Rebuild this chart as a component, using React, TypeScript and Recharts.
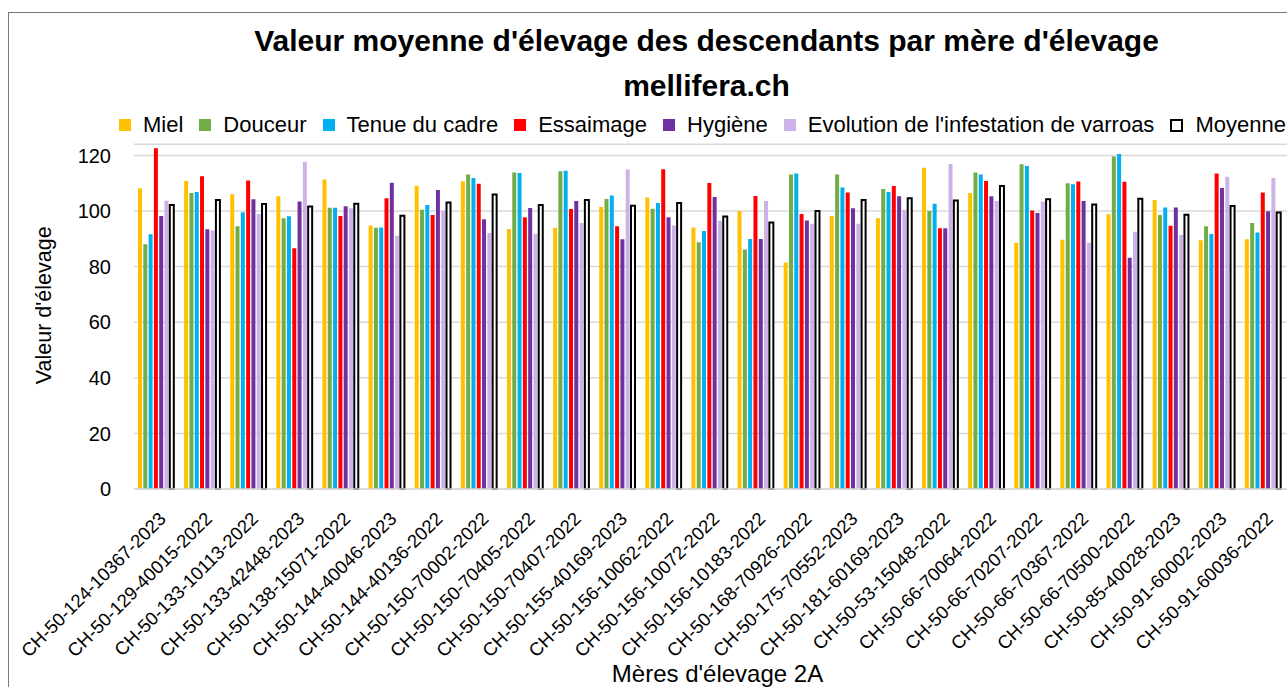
import React from 'react';
import { BarChart, Bar, XAxis, YAxis, CartesianGrid, Legend, Label } from 'recharts';

const categories = [
  'CH-50-124-10367-2023', 'CH-50-129-40015-2022', 'CH-50-133-10113-2022', 'CH-50-133-42448-2023',
  'CH-50-138-15071-2022', 'CH-50-144-40046-2023', 'CH-50-144-40136-2022', 'CH-50-150-70002-2022',
  'CH-50-150-70405-2022', 'CH-50-150-70407-2022', 'CH-50-155-40169-2023', 'CH-50-156-10062-2022',
  'CH-50-156-10072-2022', 'CH-50-156-10183-2022', 'CH-50-168-70926-2022', 'CH-50-175-70552-2023',
  'CH-50-181-60169-2023', 'CH-50-53-15048-2022', 'CH-50-66-70064-2022', 'CH-50-66-70207-2022',
  'CH-50-66-70367-2022', 'CH-50-66-70500-2022', 'CH-50-85-40028-2023', 'CH-50-91-60002-2023',
  'CH-50-91-60036-2022',
];

const miel = [108.2, 110.8, 106, 105.3, 111.3, 94.8, 109.1, 110.7, 93.5, 94, 101.4, 104.9, 94.1, 100, 81.5, 98.2, 97.4, 115.6, 106.5, 88.6, 89.7, 98.8, 104, 89.5, 89.8];
const douceur = [88, 106.5, 94.5, 97.4, 101.2, 94, 100.5, 113.1, 113.9, 114.3, 104.3, 100.8, 88.8, 86.2, 113.1, 113.1, 107.9, 100, 113.9, 116.8, 110, 119.6, 98.6, 94.5, 95.7];
const tenue = [91.6, 106.8, 99.6, 98.1, 101.2, 94.1, 102.2, 111.9, 113.7, 114.5, 105.6, 102.9, 92.8, 89.9, 113.5, 108.5, 106.8, 102.6, 113.1, 116.2, 109.6, 120.5, 101.3, 91.7, 92.3];
const essaimage = [122.6, 112.5, 111, 86.6, 98.2, 104.6, 98.6, 109.8, 97.8, 100.7, 94.5, 115, 110.1, 105.4, 98.9, 106.7, 109, 93.8, 110.8, 100.2, 110.6, 110.5, 94.7, 113.5, 106.7];
const hygiene = [98.2, 93.4, 104.2, 103.4, 101.7, 110.2, 107.6, 97, 101.1, 103.6, 89.8, 97.8, 105, 89.9, 96.6, 101, 105.3, 93.8, 105.3, 99.3, 103.6, 83.2, 101.3, 108.3, 99.9];
const evolution = [103.7, 93, 98.9, 117.7, 101, 91.1, 100, 92.1, 91.8, 95.7, 114.9, 94.8, 96.5, 103.6, 95.4, 95.4, 100.4, 116.9, 103.6, 103.4, 88.6, 92.5, 91.4, 112.3, 111.9];
const moyenne = [102.2, 104, 102.5, 101.6, 102.6, 98.3, 103.1, 105.9, 102.2, 104, 101.9, 102.9, 98, 95.9, 100, 104, 104.6, 103.8, 109, 104.2, 102.3, 104.4, 98.7, 101.8, 99.5];

const seriesKeys = ['miel', 'douceur', 'tenue', 'essaimage', 'hygiene', 'evolution', 'moyenne'];
const seriesNames = ['Miel', 'Douceur', 'Tenue du cadre', 'Essaimage', 'Hygiène', "Evolution de l'infestation de varroas", 'Moyenne'];
const seriesColors = ['#FFC000', '#70AD47', '#00B0F0', '#FF0000', '#7030A0', '#CDB2E8', '#FFFFFF'];
const seriesValues = [miel, douceur, tenue, essaimage, hygiene, evolution, moyenne];
const yTicks = [0, 20, 40, 60, 80, 100, 120];

const titleLine1 = "Valeur moyenne d'élevage des descendants par mère d'élevage";
const titleLine2 = 'mellifera.ch';
const yTitle = "Valeur d'élevage";
const xTitle = "Mères d'élevage 2A";

const data = categories.map((name, i) => {
  const row: Record<string, any> = { name };
  seriesKeys.forEach((k, j) => {
    row[k] = seriesValues[j][i];
  });
  return row;
});

const FONT = "'Liberation Sans', Arial, sans-serif";

const XTick = (props: any) => {
  const { x, y, payload } = props;
  const tx = x + 10;
  const ty = y + 31;
  return (
    <text x={tx} y={ty} transform={`rotate(-45 ${tx} ${ty})`} textAnchor="end" fontSize={18.5} fontFamily={FONT} fill="#000">
      {payload.value}
    </text>
  );
};

const LegendContent = () => (
  <div style={{ display: 'flex', alignItems: 'center', height: 24, fontFamily: FONT, fontSize: 22, lineHeight: '24px', color: '#000', whiteSpace: 'nowrap' }}>
    {seriesNames.map((n, i) => (
      <div key={n} style={{ display: 'flex', alignItems: 'center', marginRight: 16 }}>
        <span
          style={{
            display: 'inline-block',
            width: i === 6 ? 9 : 12,
            height: i === 6 ? 9 : 12,
            background: seriesColors[i],
            border: i === 6 ? '2px solid #000' : 'none',
            marginRight: 12,
            marginTop: 1,
          }}
        />
        <span>{n}</span>
      </div>
    ))}
  </div>
);

export default function App() {
  return (
    <div style={{ position: 'absolute', left: 0, top: 0, width: 1287, height: 687, overflow: 'hidden', background: '#fff' }}>
      <div style={{ position: 'absolute', left: 8, top: 12, width: 1300, height: 700, borderLeft: '1px solid #7a7a7a', borderTop: '1px solid #7a7a7a' }} />
      <div style={{ position: 'absolute', left: 0, top: 0 }}>
        <BarChart
          width={1292}
          height={700}
          data={data}
          margin={{ top: 144.3, right: 5, bottom: 0, left: 0 }}
          barCategoryGap={4}
          barGap={1.3}
        >
          <CartesianGrid vertical={false} stroke="#d9d9d9" strokeWidth={1.5} />
          <XAxis
            dataKey="name"
            interval={0}
            tick={<XTick />}
            tickLine={false}
            tickSize={0}
            tickMargin={0}
            axisLine={{ stroke: '#d9d9d9', strokeWidth: 1.5 }}
            height={211}
          >
            <Label
              content={(p: any) => {
                const vb = p.viewBox || { x: 134, y: 489, width: 1153, height: 211 };
                const cx = vb.x + 583.5;
                const cy = vb.y + 192.5;
                return (
                  <text x={cx} y={cy} textAnchor="middle" fontSize={24} fontFamily={FONT} fill="#000">
                    {xTitle}
                  </text>
                );
              }}
            />
          </XAxis>
          <YAxis
            domain={[0, 124]}
            ticks={yTicks}
            width={134}
            axisLine={false}
            tickLine={false}
            tickSize={0}
            tickMargin={23}
            tick={{ fontSize: 20, fill: '#000', fontFamily: FONT }}
          >
            <Label
              content={(p: any) => {
                const vb = p.viewBox || { x: 0, y: 144.3 };
                const cx = vb.x + 51;
                const cy = vb.y + 161;
                return (
                  <text x={cx} y={cy} transform={`rotate(-90 ${cx} ${cy})`} textAnchor="middle" fontSize={21.5} fontFamily={FONT} fill="#000">
                    {yTitle}
                  </text>
                );
              }}
            />
          </YAxis>
          <Legend
            layout="horizontal"
            verticalAlign="middle"
            align="center"
            wrapperStyle={{ top: 112.5, left: 119, width: 1200, height: 24 }}
            content={() => <LegendContent />}
          />
          {seriesKeys.map((k, i) => (
            <Bar
              key={k}
              dataKey={k}
              name={seriesNames[i]}
              fill={seriesColors[i]}
              stroke={i === 6 ? '#000' : 'none'}
              strokeWidth={i === 6 ? 2 : 0}
              isAnimationActive={false}
            />
          ))}
        </BarChart>
      </div>
      <svg width={1287} height={687} style={{ position: 'absolute', left: 0, top: 0, pointerEvents: 'none' }}>
        <text x={706.5} y={51} textAnchor="middle" fontSize={30} fontWeight="bold" fontFamily={FONT} fill="#000">
          {titleLine1}
        </text>
        <text x={706.5} y={96} textAnchor="middle" fontSize={30} fontWeight="bold" fontFamily={FONT} fill="#000">
          {titleLine2}
        </text>
      </svg>
    </div>
  );
}
